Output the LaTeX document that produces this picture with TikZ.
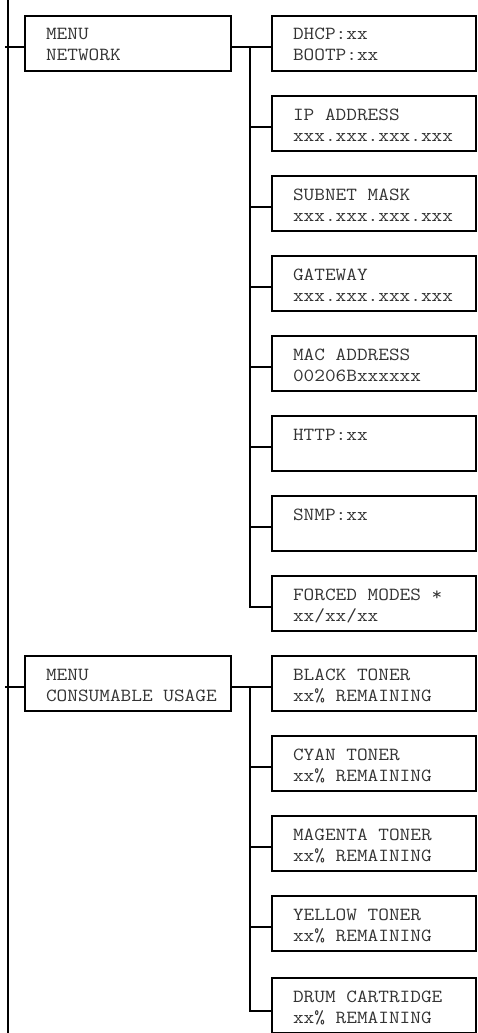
\documentclass[tikz,border=0pt]{standalone}
\usepackage{fontspec}
\setmonofont{Latin Modern Mono}[FakeStretch=1.12]
\begin{document}
\begin{tikzpicture}[x=1pt,y=-1pt,
  line width=2pt,
  menubox/.style={draw,rectangle,anchor=north west,inner sep=0pt,outer sep=0pt,minimum width=206pt,minimum height=55pt},
  itembox/.style={draw,rectangle,anchor=north west,inner sep=0pt,outer sep=0pt,minimum width=204pt,minimum height=55pt},
  txt/.style={anchor=base west,inner sep=0pt,text=black!80,font=\ttfamily\fontsize{18.5}{21}\selectfont}
]
\clip (0,0) rectangle (478,1033);
% boxes with their two text lines
\newcommand\dbox[6]{%
  \node[#2] (#1) at (#3,#4) {};
  \node[txt] (#1a) at ([xshift=20pt,yshift=-24pt]#1.north west) {#5};
  \node[txt] (#1b) at ([xshift=20pt,yshift=-45pt]#1.north west) {#6};
}
\dbox{net}{menubox}{25}{16}{MENU}{NETWORK}
\dbox{dhcp}{itembox}{272}{16}{DHCP:xx}{BOOTP:xx}
\dbox{ip}{itembox}{272}{96}{IP ADDRESS}{xxx.xxx.xxx.xxx}
\dbox{sub}{itembox}{272}{176}{SUBNET MASK}{xxx.xxx.xxx.xxx}
\dbox{gw}{itembox}{272}{256}{GATEWAY}{xxx.xxx.xxx.xxx}
\dbox{mac}{itembox}{272}{336}{MAC ADDRESS}{00206Bxxxxxx}
\dbox{http}{itembox}{272}{416}{HTTP:xx}{}
\dbox{snmp}{itembox}{272}{496}{SNMP:xx}{}
\dbox{forced}{itembox}{272}{576}{FORCED MODES *}{xx/xx/xx}
\dbox{cons}{menubox}{25}{656}{MENU}{CONSUMABLE USAGE}
\dbox{black}{itembox}{272}{656}{BLACK TONER}{xx\% REMAINING}
\dbox{cyan}{itembox}{272}{736}{CYAN TONER}{xx\% REMAINING}
\dbox{magenta}{itembox}{272}{816}{MAGENTA TONER}{xx\% REMAINING}
\dbox{yellow}{itembox}{272}{896}{YELLOW TONER}{xx\% REMAINING}
\dbox{drum}{itembox}{272}{978}{DRUM CARTRIDGE}{xx\% REMAINING}
% main trunk
\coordinate (ttop) at (8,0);
\coordinate (tbot) at (8,1040);
\draw (ttop) -- (tbot);
\coordinate (netin) at (5,47);
\coordinate (consin) at (5,687);
\draw (netin) -- ([yshift=-3.5pt]net.west);
\draw (consin) -- ([yshift=-3.5pt]cons.west);
% network branch
\draw ([yshift=-3.5pt]net.east) -- ([yshift=-3.5pt]dhcp.west);
\coordinate (nj) at (250,47);
\draw (nj) |- ([yshift=-3.5pt]forced.west);
\foreach \n in {ip,sub,gw,mac,http,snmp}
  \draw ([yshift=-3.5pt]\n.west) -- +(-22,0);
% consumable branch
\draw ([yshift=-3.5pt]cons.east) -- ([yshift=-3.5pt]black.west);
\coordinate (cj) at (250,687);
\draw (cj) |- ([yshift=-5pt]drum.west);
\foreach \n in {cyan,magenta,yellow}
  \draw ([yshift=-3.5pt]\n.west) -- +(-22,0);
\end{tikzpicture}
\end{document}
